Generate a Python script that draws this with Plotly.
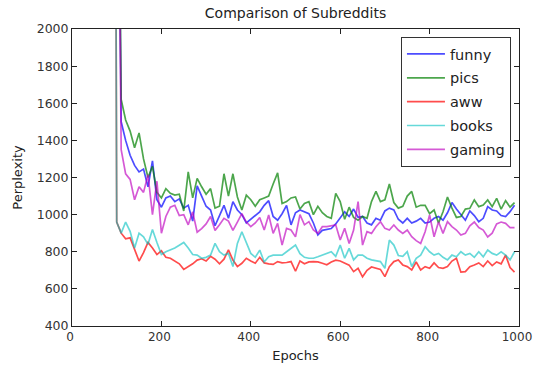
import plotly.graph_objects as go

epochs = list(range(90, 1000, 10))

funny = [9000, 4000, 1500, 1400, 1320, 1265, 1230, 1245, 1150, 1290,
         1080, 1040, 1090, 1100, 1070, 1085, 1035, 1050, 965, 1155,
         1100, 1045, 1025, 940, 995, 1050, 980, 1070, 1025, 1000,
         955, 975, 1000, 1015, 1050, 1075, 990, 970, 1005, 1050,
         945, 1010, 1025, 1015, 1005, 955, 890, 915, 920, 925,
         950, 985, 1015, 990, 1030, 985, 990, 955, 945, 980,
         970, 1020, 1035, 1025, 975, 955, 980, 955, 965, 980,
         955, 960, 980, 990, 970, 1010, 1065, 1030, 1000, 970,
         1020, 995, 962, 980, 1043, 1025, 1020, 995, 990, 1016,
         1050]

pics = [9000, 4000, 1620, 1510, 1450, 1360, 1440, 1300, 1200, 1260,
        1120, 1090, 1140, 1115, 1105, 1110, 1020, 1230, 1090, 1195,
        1150, 1110, 1140, 1035, 1045, 1220, 1100, 1220, 1095, 1025,
        1105, 1080, 1045, 1080, 1090, 1100, 1165, 1225, 1060, 1070,
        1090, 1095, 1030, 1060, 1070, 1000, 1045, 1010, 990, 980,
        1115, 1070, 975, 1040, 985, 970, 990, 980, 1070, 1125,
        1070, 1080, 1165, 1065, 1035, 1045, 1100, 1125, 1040, 1050,
        1050, 1005, 1025, 955, 1015, 1095, 1035, 985, 990, 1030,
        1034, 1079, 1043, 1052, 1079, 1043, 1088, 1030, 1075, 1040,
        1065]

aww = [9000, 960, 900, 870, 875, 815, 750, 795, 850, 820,
       785, 805, 770, 765, 750, 735, 705, 720, 735, 755,
       762, 750, 775, 760, 735, 760, 810, 755, 720, 738,
       765, 750, 738, 770, 740, 735, 732, 747, 740, 742,
       747, 695, 750, 735, 745, 747, 745, 738, 730, 745,
       755, 750, 740, 728, 693, 711, 665, 700, 718, 712,
       705, 666, 720, 747, 756, 729, 720, 702, 745, 702,
       720, 711, 740, 715, 711, 720, 750, 765, 690, 693,
       720, 729, 740, 720, 750, 725, 745, 735, 782, 715,
       690]

books = [9000, 960, 900, 960, 910, 820, 900, 880, 840, 920,
         850, 785, 800, 810, 820, 835, 850, 820, 785, 782,
         765, 770, 782, 845, 800, 782, 791, 720, 845, 908,
         854, 791, 770, 809, 745, 773, 782, 782, 782, 800,
         818, 836, 790, 770, 765, 765, 773, 782, 790, 800,
         775, 836, 765, 818, 756, 782, 782, 765, 756, 750,
         747, 711, 863, 836, 780, 775, 800, 720, 765, 782,
         827, 800, 782, 791, 770, 756, 782, 773, 800, 782,
         791, 770, 800, 773, 809, 791, 782, 800, 782, 756,
         800]

gaming = [9000, 4000, 1350, 1220, 1190, 1080, 1150, 1120, 1215, 1000,
          1180, 900, 990, 1040, 1050, 995, 1000, 945, 1015, 905,
          925, 950, 990, 915, 945, 980, 965, 915, 960, 1005,
          960, 935, 955, 985, 917, 998, 899, 953, 836, 926,
          917, 880, 1000, 945, 962, 917, 899, 935, 935, 940,
          944, 863, 926, 845, 917, 1070, 836, 908, 899, 935,
          962, 926, 917, 944, 917, 899, 917, 881, 860, 845,
          908, 998, 881, 962, 899, 962, 935, 917, 890, 899,
          940, 960, 930, 917, 880, 900, 950, 960, 953, 930,
          930]

series_names = ["funny", "pics", "aww", "books", "gaming"]
series_values = [funny, pics, aww, books, gaming]
series_colors = ["rgba(0,0,255,0.7)", "rgba(0,128,0,0.7)", "rgba(255,0,0,0.7)",
                 "rgba(0,191,191,0.6)", "rgba(191,0,191,0.65)"]

x_ticks = [0, 200, 400, 600, 800, 1000]
y_ticks = [400, 600, 800, 1000, 1200, 1400, 1600, 1800, 2000]

fig = go.Figure()
for name, vals, col in zip(series_names, series_values, series_colors):
    fig.add_trace(go.Scatter(x=epochs, y=vals, mode="lines", name=name,
                             legendgroup=name,
                             line=dict(color=col, width=1.7)))

font = "DejaVu Sans"
axis_common = dict(showgrid=False, zeroline=False, showline=True, mirror="ticks",
                   linecolor="#222", linewidth=1, ticks="inside", ticklen=5,
                   tickcolor="#222", ticklabeloverflow="allow", automargin=False)

fig.update_layout(
    width=533, height=367,
    margin=dict(l=72, r=14, t=29, b=41),
    paper_bgcolor="white", plot_bgcolor="white",
    title=dict(text="Comparison of Subreddits", x=0.5, xref="paper", xanchor="center",
               y=1 - 13/367, yref="container", yanchor="middle",
               font=dict(family=font, size=14, color="#222")),
    xaxis=dict(range=[0, 1000], tickvals=x_ticks, ticklabelshift=-2,
               tickfont=dict(family=font, size=12, color="#333"),
               title=dict(text="Epochs", font=dict(family=font, size=13, color="#222"), standoff=7),
               **axis_common),
    yaxis=dict(range=[400, 2000], tickvals=y_ticks,
               tickfont=dict(family=font, size=12.5, color="#333"),
               title=dict(text="Perplexity", font=dict(family=font, size=13, color="#222"), standoff=11),
               **axis_common),
    legend=dict(x=0.982, xanchor="right", y=0.973, yanchor="top",
                bgcolor="white", bordercolor="#333", borderwidth=1,
                font=dict(family=font, size=14.5, color="#222"),
                tracegroupgap=2, itemwidth=38, entrywidth=88),
    showlegend=True,
)

fig.write_html("out.html")
